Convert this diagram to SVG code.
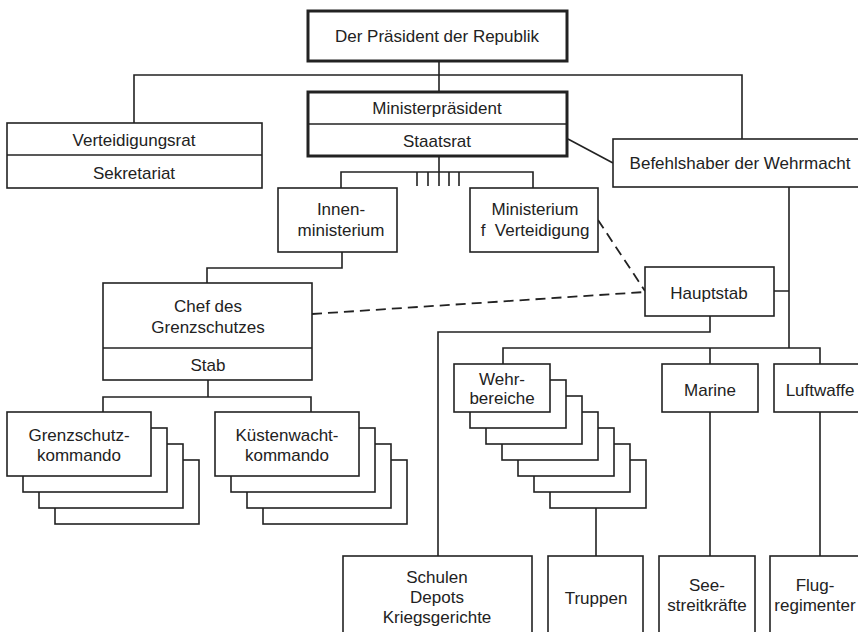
<svg xmlns="http://www.w3.org/2000/svg" width="858" height="632" viewBox="0 0 858 632">
<style>
.b{fill:#fff;stroke:#222;stroke-width:1.6}
.t{fill:#fff;stroke:#222;stroke-width:3}
.l{fill:none;stroke:#222;stroke-width:1.6}
.d{fill:none;stroke:#222;stroke-width:1.8;stroke-dasharray:10 6}
text{font-family:"Liberation Sans",Arial,sans-serif;font-size:17px;fill:#222;text-anchor:middle}
</style>
<rect width="858" height="632" fill="#fff"/>
<g id="connectors">
<path class="l" d="M439 61V92M134 123V75H742V139M568 139L613 163"/>
<path class="l" d="M439 156V186M341 188V172H533V188M417 172V186M428 172V186M449 172V186M459 172V186"/>
<path class="l" d="M342 252V268H207V283"/>
<path class="l" d="M208 380V397M103 412V397H311V412"/>
<path class="l" d="M789 187V348M774 291H789M503 364V348H820V364M710 348V364"/>
<path class="l" d="M710 316V332H438V556M596 508V556M710 412V556M820 412V556"/>
<path class="d" d="M312 314L645 292"/>
<path class="d" d="M598 220L645 291"/>
</g>
<g id="praesident">
<rect class="t" x="308" y="11" width="259" height="50"/>
<text x="437" y="42">Der Präsident der Republik</text>
</g>
<g id="ministerpraesident">
<rect class="t" x="308" y="92" width="259" height="64"/>
<line class="l" x1="308" y1="124" x2="567" y2="124"/>
<text x="437" y="114">Ministerpräsident</text>
<text x="437" y="147">Staatsrat</text>
</g>
<g id="verteidigungsrat">
<rect class="b" x="7" y="123" width="255" height="65"/>
<line class="l" x1="7" y1="155" x2="262" y2="155"/>
<text x="134" y="146">Verteidigungsrat</text>
<text x="134" y="179">Sekretariat</text>
</g>
<g id="befehlshaber">
<rect class="b" x="613" y="139" width="255" height="48"/>
<text x="740" y="169">Befehlshaber der Wehrmacht</text>
</g>
<g id="innenministerium">
<rect class="b" x="278" y="188" width="119" height="64"/>
<text x="341" y="215">Innen-</text>
<text x="341" y="236">ministerium</text>
</g>
<g id="ministerium-verteidigung">
<rect class="b" x="470" y="188" width="128" height="64"/>
<text x="535" y="215">Ministerium</text>
<text x="535" y="236" xml:space="preserve">f  Verteidigung</text>
</g>
<g id="chef-grenzschutz">
<rect class="b" x="103" y="283" width="209" height="97"/>
<line class="l" x1="103" y1="348" x2="312" y2="348"/>
<text x="208" y="312">Chef des</text>
<text x="208" y="333">Grenzschutzes</text>
<text x="208" y="371">Stab</text>
</g>
<g id="hauptstab">
<rect class="b" x="645" y="267" width="129" height="49"/>
<text x="709" y="299">Hauptstab</text>
</g>
<g id="grenzschutzkommando">
<rect class="b" x="55" y="460" width="144" height="64"/>
<rect class="b" x="39" y="444" width="144" height="64"/>
<rect class="b" x="23" y="428" width="144" height="64"/>
<rect class="b" x="7" y="412" width="144" height="64"/>
<text x="79" y="441">Grenzschutz-</text>
<text x="79" y="461">kommando</text>
</g>
<g id="kuestenwachtkommando">
<rect class="b" x="263" y="460" width="144" height="64"/>
<rect class="b" x="247" y="444" width="144" height="64"/>
<rect class="b" x="231" y="428" width="144" height="64"/>
<rect class="b" x="215" y="412" width="144" height="64"/>
<text x="287" y="441">Küstenwacht-</text>
<text x="287" y="461">kommando</text>
</g>
<g id="wehrbereiche">
<rect class="b" x="550" y="460" width="96" height="48"/>
<rect class="b" x="534" y="444" width="96" height="48"/>
<rect class="b" x="518" y="428" width="96" height="48"/>
<rect class="b" x="502" y="412" width="96" height="48"/>
<rect class="b" x="486" y="396" width="96" height="48"/>
<rect class="b" x="470" y="380" width="96" height="48"/>
<rect class="b" x="454" y="364" width="96" height="48"/>
<text x="502" y="385">Wehr-</text>
<text x="502" y="404">bereiche</text>
</g>
<g id="marine">
<rect class="b" x="662" y="364" width="96" height="48"/>
<text x="710" y="396">Marine</text>
</g>
<g id="luftwaffe">
<rect class="b" x="774" y="364" width="96" height="48"/>
<text x="820" y="396">Luftwaffe</text>
</g>
<g id="schulen">
<rect class="b" x="343" y="556" width="189" height="90"/>
<text x="437" y="583">Schulen</text>
<text x="437" y="603">Depots</text>
<text x="437" y="623">Kriegsgerichte</text>
</g>
<g id="truppen">
<rect class="b" x="548" y="556" width="95" height="90"/>
<text x="596" y="604">Truppen</text>
</g>
<g id="seestreitkraefte">
<rect class="b" x="659" y="556" width="96" height="90"/>
<text x="707" y="591">See-</text>
<text x="707" y="611">streitkräfte</text>
</g>
<g id="flugregimenter">
<rect class="b" x="770" y="556" width="100" height="90"/>
<text x="815" y="591">Flug-</text>
<text x="815" y="611">regimenter</text>
</g>
</svg>
